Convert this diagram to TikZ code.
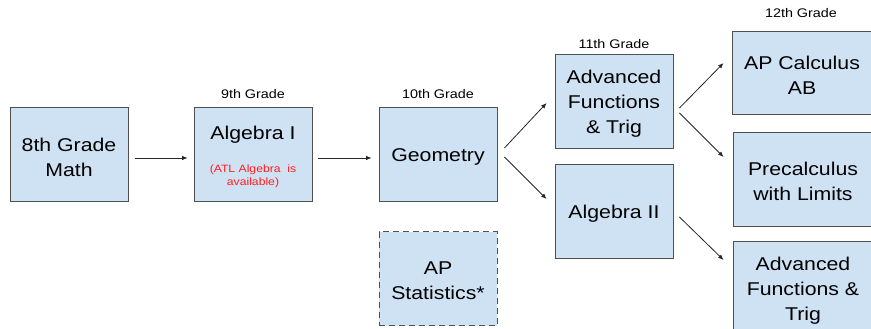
\documentclass[tikz,border=0pt]{standalone}
\usepackage{fontspec}
\setmainfont{Liberation Sans}[FakeStretch=1.15]
\usetikzlibrary{arrows.meta,calc}
\definecolor{boxfill}{HTML}{CFE2F3}
\definecolor{boxline}{HTML}{505050}
\definecolor{redtxt}{HTML}{FF2020}
\begin{document}
\begin{tikzpicture}[x=1pt,y=-1pt,
  course/.style={draw=boxline,line width=0.9pt,fill=boxfill,minimum width=118pt,minimum height=94pt,inner sep=0pt},
  wide/.style={course,minimum width=140pt},
  txt/.style={align=center,font=\fontsize{18.5}{25}\selectfont,inner sep=0pt},
  note/.style={align=center,font=\fontsize{10.6}{12.5}\selectfont,text=redtxt,inner sep=0pt},
  grade/.style={font=\fontsize{12.5}{15}\selectfont,inner sep=0pt},
  arr/.style={-{Latex[length=5.5pt,width=4.5pt]},line width=0.8pt,draw=black!85}]
\useasboundingbox (0,0) rectangle (871,329);
\clip (0,0) rectangle (871,329);
\fill[white] (0,0) rectangle (871,329);
% boxes
\node[course] (m8) at (69,154.5) {};
\node[course] (alg1) at (253,154.5) {};
\node[course] (geo) at (438,154.5) {};
\node[course,dashed,dash pattern=on 6pt off 4pt] (stat) at (438,278.5) {};
\node[course] (adv11) at (614,101) {};
\node[course] (alg2) at (614,211) {};
\node[wide,minimum height=83pt] (calc) at (802,72.5) {};
\node[wide] (pre) at (803,179) {};
\node[wide] (adv12) at (803,288) {};
% texts
\node[txt] (m8t) at ($(m8.center)+(0,2.5)$) {8th Grade\\Math};
\node[txt] (alg1t) at ($(alg1.center)+(0,-20)$) {Algebra I};
\node[note] (atl) at ($(alg1.center)+(0,22)$) {(ATL Algebra\ \ is\\available)};
\node[txt] (geot) at ($(geo.center)+(0,2.5)$) {Geometry};
\node[txt] (statt) at ($(stat.center)+(0,2.5)$) {AP\\Statistics*};
\node[txt] (adv11t) at ($(adv11.center)+(0,3)$) {Advanced\\Functions\\\& Trig};
\node[txt] (alg2t) at ($(alg2.center)+(0,2.5)$) {Algebra II};
\node[txt] (calct) at ($(calc.center)+(0,2.5)$) {AP Calculus\\AB};
\node[txt] (pret) at ($(pre.center)+(0,2.5)$) {Precalculus\\with Limits};
\node[txt] (adv12t) at ($(adv12.center)+(0,2.5)$) {Advanced\\Functions \&\\Trig};
% grade labels
\node[grade] (g9) at (253,94) {9th Grade};
\node[grade] (g10) at (438,94) {10th Grade};
\node[grade] (g11) at (614,44) {11th Grade};
\node[grade] (g12) at (801,13) {12th Grade};
% arrows
\draw[arr] ($(m8.east)+(7,3.5)$) -- ($(alg1.west)+(-6,3.5)$);
\draw[arr] ($(alg1.east)+(6,3.5)$) -- ($(geo.west)+(-7,3.5)$);
\draw[arr] ($(geo.east)+(7,-6.5)$) -- ($(adv11.west)+(-8,2)$);
\draw[arr] ($(geo.east)+(7,2.5)$) -- ($(alg2.west)+(-8,-12)$);
\draw[arr] ($(adv11.east)+(6,7)$) -- ($(calc.west)+(-8,-9.5)$);
\draw[arr] ($(adv11.east)+(6,12)$) -- ($(pre.west)+(-9,-22)$);
\draw[arr] ($(alg2.east)+(6,6)$) -- ($(adv12.west)+(-9,-28)$);
\end{tikzpicture}
\end{document}
